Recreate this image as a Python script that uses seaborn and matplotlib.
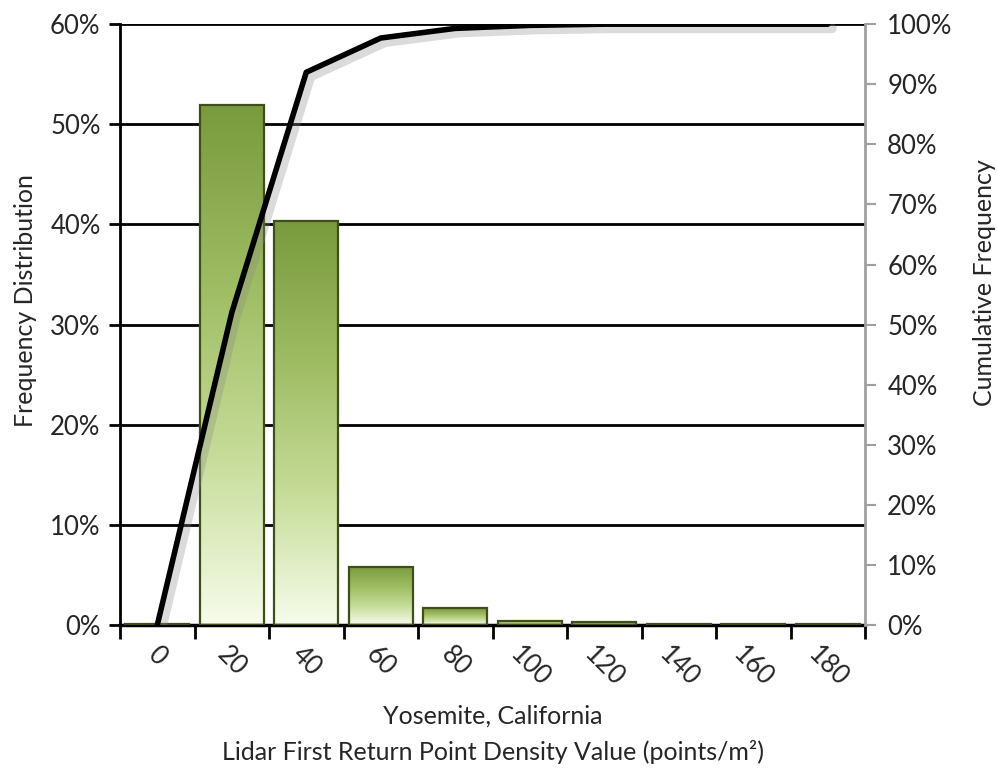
import numpy as np
import pandas as pd
import matplotlib
matplotlib.use("Agg")
import matplotlib.pyplot as plt
import matplotlib.patheffects as pe
from matplotlib.colors import LinearSegmentedColormap
from matplotlib.ticker import PercentFormatter
import seaborn as sns

# ---- data ----
categories = ["0", "20", "40", "60", "80", "100", "120", "140", "160", "180"]
freq_pct = [0.1, 51.9, 40.3, 5.8, 1.65, 0.45, 0.3, 0.1, 0.1, 0.1]
cum_pct = [0.0, 52.0, 92.0, 97.7, 99.3, 99.8, 100.0, 100.0, 100.0, 100.0]
left_ticks = [0, 10, 20, 30, 40, 50, 60]
right_ticks = [0, 10, 20, 30, 40, 50, 60, 70, 80, 90, 100]

df = pd.DataFrame({"cat": categories, "freq": freq_pct, "cum": cum_pct,
                   "pos": np.arange(len(categories))})

sns.set_theme(style="white")
plt.rcParams["font.family"] = ["Lato", "DejaVu Sans"]
txt = "#262626"
TICK_FS = 18.5
LAB_FS = 18

fig = plt.figure(figsize=(9.97, 7.8), dpi=100)
ax = fig.add_axes([0.1204, 0.1987, 0.8676 - 0.1204, 0.969 - 0.1987])

sns.barplot(data=df, x="cat", y="freq", order=categories, ax=ax,
            width=0.86, color="#9DBB61", edgecolor="#3E4F1C", linewidth=1.6,
            zorder=3)

cmap = LinearSegmentedColormap.from_list("g", ["#F7FCEB", "#C5DB97", "#9DBB61", "#7A9A3E"])
grad = np.linspace(0, 1, 256).reshape(-1, 1)
for p in list(ax.patches):
    p.set_facecolor("none")
    x0, y0 = p.get_x(), p.get_y()
    w, h = p.get_width(), p.get_height()
    im = ax.imshow(grad, cmap=cmap, origin="lower", aspect="auto",
                   extent=[x0, x0 + w, y0, y0 + h], zorder=2.5,
                   interpolation="bilinear")
    im.set_clip_path(p)

ax.set_xlim(-0.5, len(categories) - 0.5)
ax.set_ylim(0, 60)
ax.set_yticks(left_ticks)
ax.yaxis.set_major_formatter(PercentFormatter(decimals=0))
ax.yaxis.grid(True, color="black", linewidth=2)
ax.set_axisbelow(True)

# x ticks: marks at boundaries, labels at centres
ax.set_xticks(np.arange(-0.5, len(categories), 1.0))
ax.set_xticklabels([])
ax.set_xticks(np.arange(len(categories)), labels=categories, minor=True)
ax.tick_params(axis="x", which="major", direction="out", length=10, width=2,
               color="black", bottom=True)
ax.tick_params(axis="x", which="minor", length=0, pad=12, labelsize=TICK_FS,
               labelcolor=txt)
for lab in ax.get_xticklabels(minor=True):
    lab.set_rotation(-45)
    lab.set_ha("center")
    lab.set_va("top")
ax.tick_params(axis="y", direction="out", length=8, width=2, color="black",
               left=True, labelsize=TICK_FS, labelcolor=txt, pad=6)

for s in ["top", "right"]:
    ax.spines[s].set_visible(False)
ax.spines["left"].set_color("black")
ax.spines["left"].set_linewidth(2)
ax.spines["bottom"].set_color("black")
ax.spines["bottom"].set_linewidth(2.5)

ax.set_ylabel("Frequency Distribution", fontsize=LAB_FS, color=txt)
ax.yaxis.set_label_coords(-0.112, 0.54)
ax.set_xlabel("Yosemite, California\nLidar First Return Point Density Value (points/m²)",
              fontsize=LAB_FS, color=txt, labelpad=10, linespacing=1.6)

# cumulative line
ax2 = ax.twinx()
sns.lineplot(data=df, x="pos", y="cum", ax=ax2, color="black", linewidth=4,
             zorder=5)
ax2.lines[0].set_path_effects([
    pe.SimpleLineShadow(offset=(3, -3), shadow_color="#888888", alpha=0.3, linewidth=7),
    pe.Normal()])
ax2.set_ylim(0, 100)
ax2.set_xlim(-0.5, len(categories) - 0.5)
ax2.set_yticks(right_ticks)
ax2.yaxis.set_major_formatter(PercentFormatter(decimals=0))
ax2.tick_params(axis="y", direction="out", length=8, width=1.5, color="#A0A0A0",
                right=True, labelsize=TICK_FS, labelcolor=txt, pad=8)
for s in ["top", "left", "bottom"]:
    ax2.spines[s].set_visible(False)
ax2.spines["right"].set_color("#A0A0A0")
ax2.spines["right"].set_linewidth(2)
ax2.grid(False)
ax2.set_ylabel("Cumulative Frequency", fontsize=LAB_FS, color=txt)
ax2.yaxis.set_label_coords(1.145, 0.57)
ax2.set_xlabel("")

fig.savefig("out.png", dpi=100)
